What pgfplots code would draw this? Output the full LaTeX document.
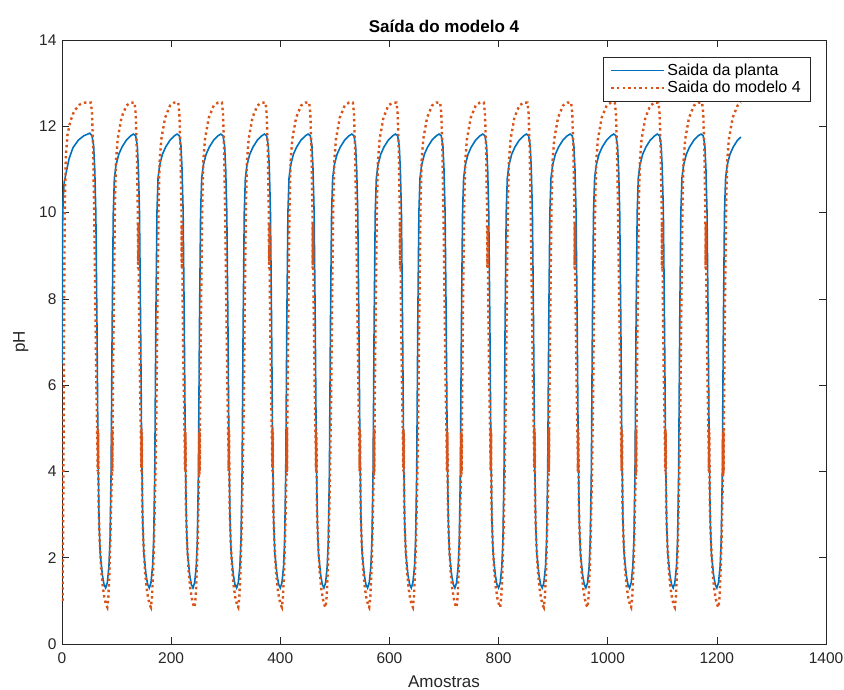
\documentclass[border=0pt]{standalone}
\usepackage{fontspec}
\setmainfont{Liberation Sans}
\usepackage{pgfplots}
\pgfplotsset{compat=1.18}
\usetikzlibrary{calc}

\definecolor{mblue}{HTML}{0072BD}
\definecolor{morange}{HTML}{D95319}
\definecolor{axgray}{HTML}{262626}

\begin{document}
\begin{tikzpicture}
\begin{axis}[
    width=764pt, height=604pt, scale only axis,
    xmin=0, xmax=1400, ymin=0, ymax=14,
    xtick={0,200,...,1400}, ytick={0,2,...,14},
    tick align=inside, major tick length=7pt,
    axis line style={axgray, line width=0.6pt},
    tick style={axgray, line width=0.6pt},
    /pgf/number format/assume math mode=true,
    /pgf/number format/1000 sep={},
    ticklabel style={font=\fontsize{15.5}{17}\selectfont, text=axgray},
    xticklabel style={yshift=-5pt},
    yticklabel style={xshift=-2pt},
    title={\textbf{Saída do modelo 4}},
    title style={font=\fontsize{17}{19}\selectfont, yshift=-2pt},
    xlabel={Amostras}, ylabel={pH},
    label style={font=\fontsize{17}{19}\selectfont, text=axgray},
    xlabel style={yshift=-5pt},
    ylabel style={yshift=4pt},
    legend style={at={(rel axis cs:0.979,0.972)}, anchor=north east,
      font=\fontsize{16}{18}\selectfont, draw=axgray,
      row sep=0pt, inner xsep=7pt, inner ysep=5pt, cells={anchor=west}},
    legend image code/.code={\draw[#1] plot coordinates {(0cm,0cm) (1.85cm,0cm)};},
]
\coordinate (bl) at (rel axis cs:0,0);
\coordinate (tr) at (rel axis cs:1,1);
% Saida da planta
\addplot[mblue, line width=1.6pt] coordinates {
(0,6.5)(1,9.6)(2,10.3)(4,10.7)(8,10.95)(13,11.25)(20,11.5)(30,11.68)(40,11.78)(51,11.84)
(55,11.78)(58,11.55)(60,11.0)(62,10.0)(64,7.5)(66,4.5)(68,2.8)(70,2.1)(74,1.6)(77,1.38)(80,1.3)(83,1.42)(86,1.8)(88,2.4)(90,4.0)(92,7.5)(94,10.0)(96,10.8)(99,11.1)(104,11.35)(110,11.52)(118,11.68)(126,11.78)(131,11.82)
(135,11.78)(138,11.55)(140,11.0)(142,10.0)(144,7.5)(146,4.5)(148,2.8)(150,2.1)(154,1.6)(157,1.38)(160,1.3)(163,1.42)(166,1.8)(168,2.4)(170,4.0)(172,7.5)(174,10.0)(176,10.8)(179,11.1)(184,11.35)(190,11.52)(198,11.68)(206,11.78)(211,11.82)
(215,11.78)(218,11.55)(220,11.0)(222,10.0)(224,7.5)(226,4.5)(228,2.8)(230,2.1)(234,1.6)(237,1.38)(240,1.3)(243,1.42)(246,1.8)(248,2.4)(250,4.0)(252,7.5)(254,10.0)(256,10.8)(259,11.1)(264,11.35)(270,11.52)(278,11.68)(286,11.78)(291,11.82)
(295,11.78)(298,11.55)(300,11.0)(302,10.0)(304,7.5)(306,4.5)(308,2.8)(310,2.1)(314,1.6)(317,1.38)(320,1.3)(323,1.42)(326,1.8)(328,2.4)(330,4.0)(332,7.5)(334,10.0)(336,10.8)(339,11.1)(344,11.35)(350,11.52)(358,11.68)(366,11.78)(371,11.82)
(375,11.78)(378,11.55)(380,11.0)(382,10.0)(384,7.5)(386,4.5)(388,2.8)(390,2.1)(394,1.6)(397,1.38)(400,1.3)(403,1.42)(406,1.8)(408,2.4)(410,4.0)(412,7.5)(414,10.0)(416,10.8)(419,11.1)(424,11.35)(430,11.52)(438,11.68)(446,11.78)(451,11.82)
(455,11.78)(458,11.55)(460,11.0)(462,10.0)(464,7.5)(466,4.5)(468,2.8)(470,2.1)(474,1.6)(477,1.38)(480,1.3)(483,1.42)(486,1.8)(488,2.4)(490,4.0)(492,7.5)(494,10.0)(496,10.8)(499,11.1)(504,11.35)(510,11.52)(518,11.68)(526,11.78)(531,11.82)
(535,11.78)(538,11.55)(540,11.0)(542,10.0)(544,7.5)(546,4.5)(548,2.8)(550,2.1)(554,1.6)(557,1.38)(560,1.3)(563,1.42)(566,1.8)(568,2.4)(570,4.0)(572,7.5)(574,10.0)(576,10.8)(579,11.1)(584,11.35)(590,11.52)(598,11.68)(606,11.78)(611,11.82)
(615,11.78)(618,11.55)(620,11.0)(622,10.0)(624,7.5)(626,4.5)(628,2.8)(630,2.1)(634,1.6)(637,1.38)(640,1.3)(643,1.42)(646,1.8)(648,2.4)(650,4.0)(652,7.5)(654,10.0)(656,10.8)(659,11.1)(664,11.35)(670,11.52)(678,11.68)(686,11.78)(691,11.82)
(695,11.78)(698,11.55)(700,11.0)(702,10.0)(704,7.5)(706,4.5)(708,2.8)(710,2.1)(714,1.6)(717,1.38)(720,1.3)(723,1.42)(726,1.8)(728,2.4)(730,4.0)(732,7.5)(734,10.0)(736,10.8)(739,11.1)(744,11.35)(750,11.52)(758,11.68)(766,11.78)(771,11.82)
(775,11.78)(778,11.55)(780,11.0)(782,10.0)(784,7.5)(786,4.5)(788,2.8)(790,2.1)(794,1.6)(797,1.38)(800,1.3)(803,1.42)(806,1.8)(808,2.4)(810,4.0)(812,7.5)(814,10.0)(816,10.8)(819,11.1)(824,11.35)(830,11.52)(838,11.68)(846,11.78)(851,11.82)
(855,11.78)(858,11.55)(860,11.0)(862,10.0)(864,7.5)(866,4.5)(868,2.8)(870,2.1)(874,1.6)(877,1.38)(880,1.3)(883,1.42)(886,1.8)(888,2.4)(890,4.0)(892,7.5)(894,10.0)(896,10.8)(899,11.1)(904,11.35)(910,11.52)(918,11.68)(926,11.78)(931,11.82)
(935,11.78)(938,11.55)(940,11.0)(942,10.0)(944,7.5)(946,4.5)(948,2.8)(950,2.1)(954,1.6)(957,1.38)(960,1.3)(963,1.42)(966,1.8)(968,2.4)(970,4.0)(972,7.5)(974,10.0)(976,10.8)(979,11.1)(984,11.35)(990,11.52)(998,11.68)(1006,11.78)(1011,11.82)
(1015,11.78)(1018,11.55)(1020,11.0)(1022,10.0)(1024,7.5)(1026,4.5)(1028,2.8)(1030,2.1)(1034,1.6)(1037,1.38)(1040,1.3)(1043,1.42)(1046,1.8)(1048,2.4)(1050,4.0)(1052,7.5)(1054,10.0)(1056,10.8)(1059,11.1)(1064,11.35)(1070,11.52)(1078,11.68)(1086,11.78)(1091,11.82)
(1095,11.78)(1098,11.55)(1100,11.0)(1102,10.0)(1104,7.5)(1106,4.5)(1108,2.8)(1110,2.1)(1114,1.6)(1117,1.38)(1120,1.3)(1123,1.42)(1126,1.8)(1128,2.4)(1130,4.0)(1132,7.5)(1134,10.0)(1136,10.8)(1139,11.1)(1144,11.35)(1150,11.52)(1158,11.68)(1166,11.78)(1171,11.82)
(1175,11.78)(1178,11.55)(1180,11.0)(1182,10.0)(1184,7.5)(1186,4.5)(1188,2.8)(1190,2.1)(1194,1.6)(1197,1.38)(1200,1.3)(1203,1.42)(1206,1.8)(1208,2.4)(1210,4.0)(1212,7.5)(1214,10.0)(1216,10.8)(1219,11.1)(1224,11.35)(1230,11.52)(1238,11.68)(1244,11.75)
};
% Saida do modelo 4
\addplot[morange, line width=2.4pt, dash pattern=on 2.4pt off 3.2pt] coordinates {
(1,1.0)(2,2.5)(3,5)(4,8)(5,10)(7,11.3)(10,11.8)(15,12.1)(22,12.35)(32,12.5)(42,12.55)(53,12.55)
(55,12.3)(57,11.5)(59,10.0)(61,8.0)(63,6.0)(65,4.5)(65.4,4.0)(65.7,5.0)(66,4.1)(66.3,4.9)(67,3.2)(69,2.4)(72,1.7)(75,1.3)(78,1.05)(81,0.9)(83,0.85)(85,1.1)(87,1.7)(89,2.6)(91,3.8)(91.5,4.9)(91.8,3.9)(92.1,5.0)(92.4,4.0)(93,5.5)(95,8.0)(97,10.2)(99,11.2)(102,11.7)(109,12.2)(118,12.48)(126,12.55)(133,12.55)
(135,12.3)(137,11.5)(139,10.0)(139.4,8.7)(139.7,9.8)(140,8.8)(140.3,9.7)(141,8.0)(143,6.0)(145,4.5)(145.4,4.0)(145.7,5.0)(146,4.1)(146.3,4.9)(147,3.2)(149,2.4)(152,1.7)(155,1.3)(158,1.05)(161,0.9)(163,0.85)(165,1.1)(167,1.7)(169,2.6)(171,3.8)(173,5.5)(175,8.0)(177,10.2)(179,11.2)(182,11.7)(189,12.2)(198,12.48)(206,12.55)(213,12.55)
(215,12.3)(217,11.5)(219,10.0)(219.4,8.7)(219.7,9.8)(220,8.8)(220.3,9.7)(221,8.0)(223,6.0)(225,4.5)(225.4,4.0)(225.7,5.0)(226,4.1)(226.3,4.9)(227,3.2)(229,2.4)(232,1.7)(235,1.3)(238,1.05)(241,0.9)(243,0.85)(245,1.1)(247,1.7)(249,2.6)(251,3.8)(251.5,4.9)(251.8,3.9)(252.1,5.0)(252.4,4.0)(253,5.5)(255,8.0)(257,10.2)(259,11.2)(262,11.7)(269,12.2)(278,12.48)(286,12.55)(293,12.55)
(295,12.3)(297,11.5)(299,10.0)(301,8.0)(303,6.0)(305,4.5)(305.4,4.0)(305.7,5.0)(306,4.1)(306.3,4.9)(307,3.2)(309,2.4)(312,1.7)(315,1.3)(318,1.05)(321,0.9)(323,0.85)(325,1.1)(327,1.7)(329,2.6)(331,3.8)(333,5.5)(335,8.0)(337,10.2)(339,11.2)(342,11.7)(349,12.2)(358,12.48)(366,12.55)(373,12.55)
(375,12.3)(377,11.5)(379,10.0)(379.4,8.7)(379.7,9.8)(380,8.8)(380.3,9.7)(381,8.0)(383,6.0)(385,4.5)(385.4,4.0)(385.7,5.0)(386,4.1)(386.3,4.9)(387,3.2)(389,2.4)(392,1.7)(395,1.3)(398,1.05)(401,0.9)(403,0.85)(405,1.1)(407,1.7)(409,2.6)(411,3.8)(411.5,4.9)(411.8,3.9)(412.1,5.0)(412.4,4.0)(413,5.5)(415,8.0)(417,10.2)(419,11.2)(422,11.7)(429,12.2)(438,12.48)(446,12.55)(453,12.55)
(455,12.3)(457,11.5)(459,10.0)(459.4,8.7)(459.7,9.8)(460,8.8)(460.3,9.7)(461,8.0)(463,6.0)(465,4.5)(465.4,4.0)(465.7,5.0)(466,4.1)(466.3,4.9)(467,3.2)(469,2.4)(472,1.7)(475,1.3)(478,1.05)(481,0.9)(483,0.85)(485,1.1)(487,1.7)(489,2.6)(491,3.8)(493,5.5)(495,8.0)(497,10.2)(499,11.2)(502,11.7)(509,12.2)(518,12.48)(526,12.55)(533,12.55)
(535,12.3)(537,11.5)(539,10.0)(541,8.0)(543,6.0)(545,4.5)(545.4,4.0)(545.7,5.0)(546,4.1)(546.3,4.9)(547,3.2)(549,2.4)(552,1.7)(555,1.3)(558,1.05)(561,0.9)(563,0.85)(565,1.1)(567,1.7)(569,2.6)(571,3.8)(571.5,4.9)(571.8,3.9)(572.1,5.0)(572.4,4.0)(573,5.5)(575,8.0)(577,10.2)(579,11.2)(582,11.7)(589,12.2)(598,12.48)(606,12.55)(613,12.55)
(615,12.3)(617,11.5)(619,10.0)(619.4,8.7)(619.7,9.8)(620,8.8)(620.3,9.7)(621,8.0)(623,6.0)(625,4.5)(625.4,4.0)(625.7,5.0)(626,4.1)(626.3,4.9)(627,3.2)(629,2.4)(632,1.7)(635,1.3)(638,1.05)(641,0.9)(643,0.85)(645,1.1)(647,1.7)(649,2.6)(651,3.8)(653,5.5)(655,8.0)(657,10.2)(659,11.2)(662,11.7)(669,12.2)(678,12.48)(686,12.55)(693,12.55)
(695,12.3)(697,11.5)(699,10.0)(701,8.0)(703,6.0)(705,4.5)(705.4,4.0)(705.7,5.0)(706,4.1)(706.3,4.9)(707,3.2)(709,2.4)(712,1.7)(715,1.3)(718,1.05)(721,0.9)(723,0.85)(725,1.1)(727,1.7)(729,2.6)(731,3.8)(731.5,4.9)(731.8,3.9)(732.1,5.0)(732.4,4.0)(733,5.5)(735,8.0)(737,10.2)(739,11.2)(742,11.7)(749,12.2)(758,12.48)(766,12.55)(773,12.55)
(775,12.3)(777,11.5)(779,10.0)(779.4,8.7)(779.7,9.8)(780,8.8)(780.3,9.7)(781,8.0)(783,6.0)(785,4.5)(785.4,4.0)(785.7,5.0)(786,4.1)(786.3,4.9)(787,3.2)(789,2.4)(792,1.7)(795,1.3)(798,1.05)(801,0.9)(803,0.85)(805,1.1)(807,1.7)(809,2.6)(811,3.8)(813,5.5)(815,8.0)(817,10.2)(819,11.2)(822,11.7)(829,12.2)(838,12.48)(846,12.55)(853,12.55)
(855,12.3)(857,11.5)(859,10.0)(861,8.0)(863,6.0)(865,4.5)(865.4,4.0)(865.7,5.0)(866,4.1)(866.3,4.9)(867,3.2)(869,2.4)(872,1.7)(875,1.3)(878,1.05)(881,0.9)(883,0.85)(885,1.1)(887,1.7)(889,2.6)(891,3.8)(891.5,4.9)(891.8,3.9)(892.1,5.0)(892.4,4.0)(893,5.5)(895,8.0)(897,10.2)(899,11.2)(902,11.7)(909,12.2)(918,12.48)(926,12.55)(933,12.55)
(935,12.3)(937,11.5)(939,10.0)(939.4,8.7)(939.7,9.8)(940,8.8)(940.3,9.7)(941,8.0)(943,6.0)(945,4.5)(945.4,4.0)(945.7,5.0)(946,4.1)(946.3,4.9)(947,3.2)(949,2.4)(952,1.7)(955,1.3)(958,1.05)(961,0.9)(963,0.85)(965,1.1)(967,1.7)(969,2.6)(971,3.8)(973,5.5)(975,8.0)(977,10.2)(979,11.2)(982,11.7)(989,12.2)(998,12.48)(1006,12.55)(1013,12.55)
(1015,12.3)(1017,11.5)(1019,10.0)(1021,8.0)(1023,6.0)(1025,4.5)(1025.4,4.0)(1025.7,5.0)(1026,4.1)(1026.3,4.9)(1027,3.2)(1029,2.4)(1032,1.7)(1035,1.3)(1038,1.05)(1041,0.9)(1043,0.85)(1045,1.1)(1047,1.7)(1049,2.6)(1051,3.8)(1051.5,4.9)(1051.8,3.9)(1052.1,5.0)(1052.4,4.0)(1053,5.5)(1055,8.0)(1057,10.2)(1059,11.2)(1062,11.7)(1069,12.2)(1078,12.48)(1086,12.55)(1093,12.55)
(1095,12.3)(1097,11.5)(1099,10.0)(1099.4,8.7)(1099.7,9.8)(1100,8.8)(1100.3,9.7)(1101,8.0)(1103,6.0)(1105,4.5)(1105.4,4.0)(1105.7,5.0)(1106,4.1)(1106.3,4.9)(1107,3.2)(1109,2.4)(1112,1.7)(1115,1.3)(1118,1.05)(1121,0.9)(1123,0.85)(1125,1.1)(1127,1.7)(1129,2.6)(1131,3.8)(1133,5.5)(1135,8.0)(1137,10.2)(1139,11.2)(1142,11.7)(1149,12.2)(1158,12.48)(1166,12.55)(1173,12.55)
(1175,12.3)(1177,11.5)(1179,10.0)(1179.4,8.7)(1179.7,9.8)(1180,8.8)(1180.3,9.7)(1181,8.0)(1183,6.0)(1185,4.5)(1185.4,4.0)(1185.7,5.0)(1186,4.1)(1186.3,4.9)(1187,3.2)(1189,2.4)(1192,1.7)(1195,1.3)(1198,1.05)(1201,0.9)(1203,0.85)(1205,1.1)(1207,1.7)(1209,2.6)(1211,3.8)(1211.5,4.9)(1211.8,3.9)(1212.1,5.0)(1212.4,4.0)(1213,5.5)(1215,8.0)(1217,10.2)(1219,11.2)(1222,11.7)(1229,12.2)(1238,12.48)(1244,12.55)
};
\legend{Saida da planta, Saida do modelo 4}
\end{axis}
\pgfresetboundingbox
\path ($(bl)+(-62pt,-45pt)$) rectangle ($(tr)+(18pt,40pt)$);
\end{tikzpicture}
\end{document}
